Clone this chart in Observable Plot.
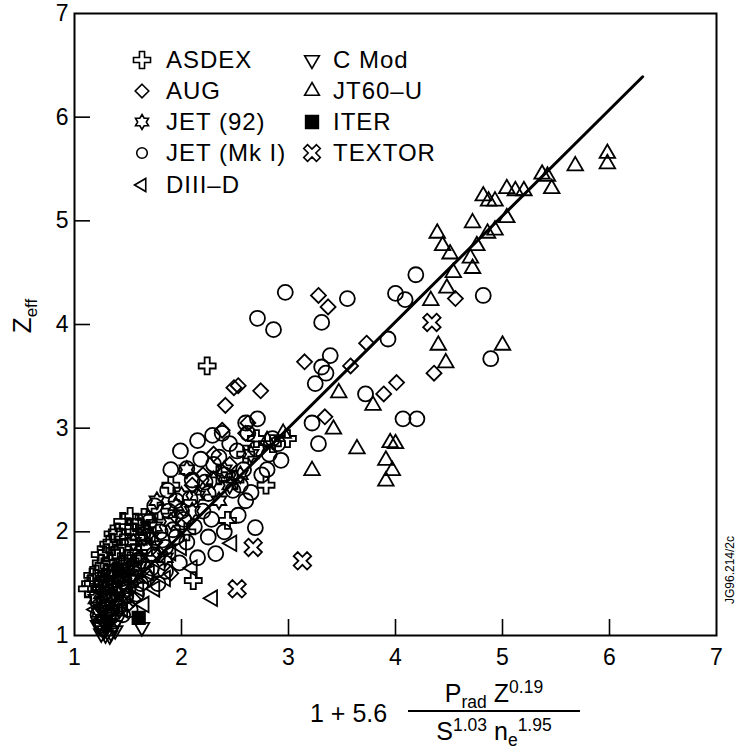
<!DOCTYPE html>
<html><head><meta charset="utf-8">
<script src="https://cdn.jsdelivr.net/npm/d3@7"></script>
<script src="https://cdn.jsdelivr.net/npm/@observablehq/plot@0.6"></script>
<style>
body{margin:0;background:#fff;font-family:"Liberation Sans",Arial,Helvetica,sans-serif;color:#000;}
#wrap{position:relative;width:737px;height:749px;overflow:hidden;}
.abs{position:absolute;white-space:nowrap;line-height:1;}
.leg{font-size:24px;letter-spacing:1px;}
sub,sup{font-size:0.7em;line-height:0;}
</style></head><body><div id="wrap"></div>
<script>
// ---------- data ----------
const xTicks = [1,2,3,4,5,6,7];
const yTicks = [1,2,3,4,5,6,7];
const xInner = [2,3,4,5,6];
const yInner = [2,3,4,5,6];
const fitX = [1.18, 6.31];
const fitY = [1.14, 6.39];

const asdex = [[2.24,3.60],[2.79,2.45],[2.43,2.11],[2.99,2.90],[1.65,2.14],[1.57,2.09],[2.11,1.53],
 [1.15,1.50],[1.20,1.55],[1.25,1.70],[1.30,1.80],[1.35,1.90],[1.40,2.00],[1.45,2.10],[1.50,2.05],[1.55,2.00],
 [1.50,1.90],[1.40,1.75],[1.30,1.60],[1.25,1.45],[1.35,1.65],[1.60,1.95],[1.70,1.85],[1.45,1.85],[1.55,1.80],
 [1.38,1.55],[1.18,1.40],[1.12,1.45],[1.80,2.20],[1.90,2.45],[2.60,2.75],[2.70,2.90],[2.85,2.85],[2.50,2.50],
 [2.35,2.55],[1.28,1.55],[1.42,1.95],[1.62,2.05],[2.05,2.00],[1.22,1.62],[1.33,1.72],[1.48,1.60],[1.52,1.72],[1.60,1.80],
 [1.17,1.58],[1.24,1.78],[1.32,1.88],[1.38,1.82],[1.44,1.68],[1.27,1.52],[1.36,1.98],[1.52,2.15],[1.68,2.02]];
const aug = [[4.56,4.25],[4.36,3.53],[3.28,4.28],[3.37,4.17],[3.73,3.82],[3.58,3.60],[3.15,3.64],[2.74,3.36],
 [4.01,3.44],[3.89,3.33],[3.34,3.11],[2.49,3.39],[2.53,3.41],[2.41,3.22],[2.38,2.98],[2.60,2.95],[2.30,2.75],
 [2.10,2.45],[1.95,2.15],[1.75,1.90],[1.60,1.75],[1.45,1.50],[1.55,1.35],[1.70,1.55],[2.20,2.55],[2.45,2.65],
 [1.90,1.60],[1.35,1.25],[2.62,3.05],[1.30,1.40],[1.40,1.55],[1.50,1.30],
 [1.22,1.30],[1.46,1.62],[1.65,1.68],[1.80,1.78],[2.00,2.05]];
const jet92 = [[1.35,1.55],[1.45,1.70],[1.55,1.90],[1.65,1.95],[1.75,2.05],[1.90,2.10],[2.00,2.35],[2.10,2.20],
 [2.20,2.40],[2.30,2.50],[2.40,2.60],[2.55,2.55],[2.65,2.75],[1.50,1.65],[1.25,1.40],[1.30,1.50],[1.40,1.35],
 [2.05,2.60],[1.85,1.75],[2.35,2.30],[1.58,1.55],[1.20,1.35],[1.77,2.30],[1.69,2.13],[1.28,1.28],[1.38,1.45],
 [1.45,1.45],[1.52,1.55],[1.23,1.22],[1.33,1.60],[1.42,1.60],[1.62,1.75],[1.72,1.95],[1.95,2.25],[2.15,2.35],[2.45,2.45]];
const jetMk1 = [[1.99,2.78],[2.05,2.61],[2.15,2.88],[2.29,2.93],[1.87,2.40],[2.25,2.37],[2.53,2.16],[2.69,2.04],
 [2.52,2.78],[2.71,3.09],[2.93,2.69],[2.32,1.79],[2.38,2.95],[2.45,2.85],[2.60,3.05],[2.62,2.95],[2.70,2.80],
 [2.82,2.75],[2.85,2.90],[2.40,2.55],[2.18,2.70],[2.10,2.50],[1.95,2.30],[1.90,2.60],[2.00,2.20],[2.20,2.20],
 [2.30,2.65],[2.48,2.40],[2.58,2.60],[2.75,2.55],[2.12,2.05],[1.80,2.00],[1.75,2.25],[1.70,2.10],[1.85,1.85],
 [1.95,1.95],[2.05,1.90],[1.65,1.85],[1.60,1.70],[1.55,1.60],[1.72,1.65],[1.85,1.62],[1.50,1.45],[1.45,1.55],
 [1.40,1.40],[1.62,1.50],[2.28,2.12],[2.60,2.30],[2.40,2.00],[2.15,1.75],[2.25,1.95],[1.98,1.70],[1.78,1.50],
 [1.30,1.25],[1.35,1.35],[2.80,2.60],[2.90,2.85],[1.22,1.20],[1.28,1.35],[1.33,1.48],[1.38,1.62],[1.42,1.28],
 [1.48,1.38],[1.26,1.12],[1.34,1.18],[1.45,1.20],[1.52,1.25],[1.58,1.40],[1.66,1.58],[1.74,1.78],[1.82,1.92],
 [1.92,2.02],[2.02,2.12],[1.88,2.20],[2.08,2.32],[2.22,2.48],[2.35,2.72],[2.55,2.45],[2.65,2.38],
 [2.97,4.31],[2.71,4.06],[2.86,3.95],[3.31,4.02],[3.55,4.25],[4.19,4.48],[4.00,4.30],[4.09,4.24],
 [4.82,4.28],[3.93,3.86],[3.39,3.70],[3.31,3.59],[3.35,3.53],[3.25,3.43],[3.72,3.33],[3.22,3.05],[3.28,2.85],
 [4.07,3.09],[4.20,3.09],[4.89,3.67]];
const diiid = [[2.29,1.36],[2.47,1.89],[1.30,1.20],[1.40,1.30],[1.50,1.40],[1.60,1.45],[1.70,1.60],[1.80,1.70],
 [1.90,1.80],[2.00,1.85],[1.45,1.25],[1.55,1.55],[1.35,1.45],[1.25,1.15],[1.75,1.45],[2.10,1.65],[1.65,1.30],
 [1.20,1.25],[1.33,1.38],[1.48,1.48],[1.58,1.62],[1.85,1.55]];
const cmod = [[1.25,1.02],[1.28,1.05],[1.30,1.08],[1.32,1.12],[1.27,1.15],[1.35,1.20],[1.30,1.30],[1.33,1.00],
 [1.38,1.05],[1.25,1.25],[1.22,1.10],[1.40,1.15],[1.36,1.35],[1.63,1.08],[1.30,1.40],[1.42,1.25],
 [1.29,1.01],[1.34,1.03],[1.24,1.08],[1.31,1.18],[1.37,1.10]];
const jt60u = [[5.98,5.65],[5.98,5.55],[5.68,5.53],[5.37,5.45],[5.42,5.43],[5.46,5.31],[5.04,5.31],[5.12,5.29],
 [5.20,5.29],[4.82,5.24],[4.87,5.19],[4.93,5.19],[4.72,4.98],[5.04,5.03],[4.93,4.91],[4.86,4.88],[4.39,4.88],
 [4.44,4.76],[4.51,4.68],[4.76,4.76],[4.70,4.64],[4.72,4.54],[4.54,4.50],[4.48,4.35],[4.33,4.23],[4.40,3.80],
 [4.47,3.63],[5.00,3.80],[3.47,3.34],[3.79,3.22],[3.42,2.99],[3.64,2.80],[3.95,2.86],[4.00,2.85],[3.91,2.69],
 [3.97,2.59],[3.91,2.49],[3.22,2.59],[2.95,2.95],[2.80,2.88]];
const iter = [[1.60,1.17]];
const textor = [[4.34,4.02],[2.67,1.85],[3.13,1.72],[2.52,1.45]];

const legendLeft = ["ASDEX","AUG","JET (92)","JET (Mk I)","DIII\u2013D"];
const legendRight = ["C Mod","JT60\u2013U","ITER","TEXTOR"];

// ---------- symbols ----------
const rOf = s => Math.sqrt(s/Math.PI);
function poly(ctx, pts){ctx.moveTo(pts[0][0],pts[0][1]);for(let i=1;i<pts.length;i++)ctx.lineTo(pts[i][0],pts[i][1]);ctx.closePath();}
function plusPts(r,a){return [[-a,-r],[a,-r],[a,-a],[r,-a],[r,a],[a,a],[a,r],[-a,r],[-a,a],[-r,a],[-r,-a],[-a,-a]];}
const rot = (pts,ang)=>pts.map(([x,y])=>[x*Math.cos(ang)-y*Math.sin(ang), x*Math.sin(ang)+y*Math.cos(ang)]);
const symPlus = {draw(ctx,s){const r=rOf(s);poly(ctx,plusPts(r,r*0.3));}};
const symX = {draw(ctx,s){const r=rOf(s);poly(ctx,rot(plusPts(r,r*0.3),Math.PI/4));}};
const symDiamond = {draw(ctx,s){const r=rOf(s);poly(ctx,[[0,-r],[r,0],[0,r],[-r,0]]);}};
const symCircle = {draw(ctx,s){const r=rOf(s);ctx.moveTo(r,0);ctx.arc(0,0,r,0,2*Math.PI);}};
const symStar = {draw(ctx,s){const R=rOf(s),q=R/Math.sqrt(3),p=[];
  for(let i=0;i<12;i++){const ang=-Math.PI/2+i*Math.PI/6;const rr=i%2?q:R;p.push([rr*Math.cos(ang),rr*Math.sin(ang)]);}poly(ctx,p);}};
const triUp = r=>[[0,-r],[r*0.866,r*0.5],[-r*0.866,r*0.5]];
const symTriUp = {draw(ctx,s){poly(ctx,triUp(rOf(s)));}};
const symTriDown = {draw(ctx,s){poly(ctx,rot(triUp(rOf(s)),Math.PI));}};
const symTriLeft = {draw(ctx,s){poly(ctx,rot(triUp(rOf(s)),-Math.PI/2));}};
const symSquare = {draw(ctx,s){const h=rOf(s)*0.85;poly(ctx,[[-h,-h],[h,-h],[h,h],[-h,h]]);}};

const rows = a => a.map(([x,y])=>({x,y}));
const series = [
  {d:asdex, sym:symPlus, r:8.5},
  {d:aug, sym:symDiamond, r:7.5},
  {d:jet92, sym:symStar, r:8.5},
  {d:jetMk1, sym:symCircle, r:7.5},
  {d:diiid, sym:symTriLeft, r:9},
  {d:cmod, sym:symTriDown, r:8.5},
  {d:jt60u, sym:symTriUp, r:9},
  {d:textor, sym:symX, r:9.5},
];
const font = '"Liberation Sans",Arial,Helvetica,sans-serif';

const chart = Plot.plot({
  width: 737, height: 675,
  marginLeft: 74, marginRight: 21, marginTop: 13, marginBottom: 40,
  x: {domain:[1,7]}, y: {domain:[1,7]},
  style: {fontFamily: font, background:"white", color:"black", overflow:"visible"},
  marks: [
    ...series.map(s => Plot.dot(rows(s.d), {x:"x", y:"y", symbol:s.sym, r:s.r, stroke:"black", fill:"none", strokeWidth:1.8})),
    Plot.dot(rows(iter), {x:"x", y:"y", symbol:symSquare, r:7.5, fill:"black", stroke:"black"}),
    Plot.line(fitX.map((x,i)=>({x, y:fitY[i]})), {x:"x", y:"y", stroke:"black", strokeWidth:3}),
    Plot.frame({stroke:"black", strokeWidth:2}),
    Plot.axisX(xInner, {anchor:"bottom", tickSize:16, dy:-16, tickFormat:()=>"", strokeWidth:1.6, label:null}),
    Plot.axisY(yInner, {anchor:"left", tickSize:16, dx:16, tickFormat:()=>"", strokeWidth:1.6, label:null}),
    Plot.axisX(xTicks, {anchor:"bottom", tickSize:0, tickPadding:13, fontSize:23, tickFormat:d3.format("d"), label:null}),
    Plot.axisY(yTicks, {anchor:"left", tickSize:0, tickPadding:6, fontSize:23, tickFormat:d3.format("d"), label:null}),
  ]
});
const wrap = document.getElementById("wrap");
chart.style.position = "absolute"; chart.style.left = "0"; chart.style.top = "0";
wrap.appendChild(chart);

function add(html, css, cls){const d=document.createElement("div");d.className="abs "+(cls||"");d.innerHTML=html;Object.assign(d.style,css);wrap.appendChild(d);return d;}
function symSvg(sym, r, filled){
  const p = d3.symbol(sym, Math.PI*r*r)();
  return `<svg width="24" height="24" viewBox="-12 -12 24 24" style="position:absolute;left:-12px;top:-12px;overflow:visible"><path d="${p}" fill="${filled?'black':'none'}" stroke="black" stroke-width="1.6"/></svg>`;
}
// legend
const leftSyms = [[symPlus,8.5],[symDiamond,6.8],[symStar,7.5],[symCircle,5.3],[symTriLeft,7.5]];
const rightSyms = [[symTriDown,8.5,false],[symTriUp,8.5,false],[symSquare,7.5,true],[symX,9,false]];
const rowY = [60, 91, 122, 153, 185];
legendLeft.forEach((t,i)=>{
  add(symSvg(leftSyms[i][0], leftSyms[i][1]), {left:"142px", top:rowY[i]+"px", width:"0", height:"0"});
  add(t, {left:"166px", top:(rowY[i]-12)+"px"}, "leg");
});
legendRight.forEach((t,i)=>{
  add(symSvg(rightSyms[i][0], rightSyms[i][1], rightSyms[i][2]), {left:"312px", top:rowY[i]+"px", width:"0", height:"0"});
  add(t, {left:"333px", top:(rowY[i]-12)+"px"}, "leg");
});
// y label
add('Z<sub style="font-size:17px">eff</sub>', {left:"22px", top:"316px", fontSize:"26px", transform:"translate(-50%,-50%) rotate(-90deg)"});
// job number
add('JG96.214/2c', {left:"730px", top:"570px", fontSize:"12px", transform:"translate(-50%,-50%) rotate(-90deg)"});
// x label (formula)
add('1 + 5.6', {left:"310px", top:"701px", fontSize:"25px"});
add('', {left:"408px", top:"710px", width:"172px", height:"1.6px", background:"black"});
add('P<sub>rad</sub> Z<sup>0.19</sup>', {left:"408px", top:"681px", width:"172px", textAlign:"center", fontSize:"25px"});
add('S<sup>1.03</sup> n<sub>e</sub><sup>1.95</sup>', {left:"408px", top:"719px", width:"172px", textAlign:"center", fontSize:"25px"});
</script></body></html>
